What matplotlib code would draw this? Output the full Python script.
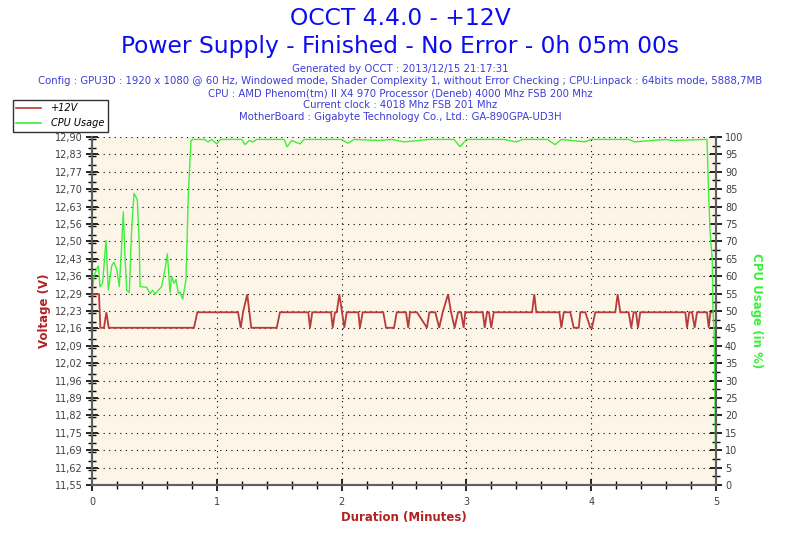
"""OCCT 4.4.0 power supply log: +12V rail and CPU usage over a 5 minute run."""

import matplotlib

matplotlib.use("Agg")
import matplotlib.pyplot as plt
import numpy as np
from matplotlib.lines import Line2D
from matplotlib.ticker import MultipleLocator


# +12V rail, breakpoints (minutes, volts)
V_TIME = [
    0.000, 0.056, 0.067, 0.096, 0.115, 0.134, 0.817, 0.844, 1.170, 1.192,
    1.210, 1.244, 1.276, 1.480, 1.506, 1.733, 1.747, 1.765, 1.915, 1.929,
    1.947, 1.961, 1.982, 2.022, 2.041, 2.134, 2.147, 2.169, 2.334, 2.356,
    2.420, 2.442, 2.516, 2.534, 2.548, 2.604, 2.684, 2.703, 2.751, 2.782,
    2.810, 2.853, 2.877, 2.906, 2.933, 2.957, 2.978, 2.991, 3.131, 3.147,
    3.165, 3.181, 3.199, 3.219, 3.526, 3.544, 3.560, 3.745, 3.761, 3.780,
    3.833, 3.860, 3.900, 3.913, 3.953, 3.993, 4.006, 4.033, 4.193, 4.212,
    4.233, 4.300, 4.321, 4.340, 4.359, 4.375, 4.393, 4.754, 4.768, 4.785,
    4.808, 4.829, 4.848, 4.928, 4.942, 4.955, 4.976,
]
V_VOLT = [
    12.29, 12.29, 12.16, 12.16, 12.22, 12.16, 12.16, 12.22, 12.22, 12.16,
    12.22, 12.29, 12.16, 12.16, 12.22, 12.22, 12.16, 12.22, 12.22, 12.16,
    12.22, 12.22, 12.29, 12.16, 12.22, 12.22, 12.16, 12.22, 12.22, 12.16,
    12.16, 12.22, 12.22, 12.16, 12.22, 12.22, 12.16, 12.22, 12.22, 12.16,
    12.22, 12.29, 12.22, 12.16, 12.22, 12.22, 12.16, 12.22, 12.22, 12.16,
    12.22, 12.22, 12.16, 12.22, 12.22, 12.29, 12.22, 12.22, 12.16, 12.22,
    12.22, 12.16, 12.16, 12.22, 12.22, 12.16, 12.16, 12.22, 12.22, 12.29,
    12.22, 12.22, 12.16, 12.22, 12.22, 12.16, 12.22, 12.22, 12.16, 12.22,
    12.22, 12.16, 12.22, 12.22, 12.16, 12.22, 12.22,
]

# CPU usage, breakpoints (minutes, %)
CPU_TIME = [
    0.000, 0.005, 0.016, 0.037, 0.051, 0.064, 0.085, 0.112, 0.131, 0.158,
    0.176, 0.198, 0.219, 0.238, 0.251, 0.264, 0.278, 0.299, 0.318, 0.337,
    0.363, 0.379, 0.385, 0.438, 0.465, 0.486, 0.505, 0.532, 0.558, 0.585,
    0.604, 0.625, 0.638, 0.657, 0.673, 0.692, 0.705, 0.727, 0.753, 0.772,
    0.793, 0.812, 0.900, 0.930, 0.960, 1.000, 1.030, 1.200, 1.226, 1.260,
    1.290, 1.320, 1.540, 1.563, 1.600, 1.667, 1.700, 2.000, 2.050, 2.100,
    2.300, 2.400, 2.500, 2.700, 2.900, 2.950, 3.000, 3.300, 3.400, 3.450,
    3.650, 3.710, 3.760, 3.950, 4.000, 4.300, 4.350, 4.600, 4.650, 4.928,
    4.940, 4.953, 4.970, 4.975, 4.985, 4.990, 4.995, 5.000,
]
CPU_PCT = [
    40.0, 56.0, 60.0, 62.0, 63.0, 57.0, 58.0, 70.3, 56.0, 63.0,
    64.0, 62.0, 57.0, 69.0, 78.5, 66.0, 56.0, 55.3, 73.7, 83.8,
    82.0, 69.0, 57.0, 56.8, 55.0, 56.0, 54.8, 56.0, 57.0, 62.0,
    66.4, 55.3, 60.0, 58.0, 59.0, 55.0, 55.5, 53.4, 59.0, 83.4,
    99.0, 99.3, 99.3, 98.6, 99.3, 98.0, 99.3, 99.3, 97.8, 99.0,
    98.6, 99.3, 99.3, 97.2, 99.0, 98.0, 99.3, 99.3, 98.2, 99.3,
    99.0, 99.3, 98.6, 99.3, 99.3, 97.2, 99.3, 99.3, 98.6, 99.3,
    99.3, 97.8, 99.3, 98.6, 99.3, 99.3, 98.6, 99.3, 99.0, 99.3,
    84.8, 72.4, 64.7, 51.2, 43.7, 30.2, 12.9, 4.3,
]

V_TICK_LABELS = [
    "11,55", "11,62", "11,69", "11,75", "11,82", "11,89", "11,96", "12,02",
    "12,09", "12,16", "12,23", "12,29", "12,36", "12,43", "12,50", "12,56",
    "12,63", "12,70", "12,77", "12,83", "12,90",
]
CPU_TICK_LABELS = [str(v) for v in range(0, 101, 5)]
X_TICK_LABELS = ["0", "1", "2", "3", "4", "5"]

TITLE_LINES = ["OCCT 4.4.0 - +12V", "Power Supply - Finished - No Error - 0h 05m 00s"]
INFO_LINES = [
    "Generated by OCCT : 2013/12/15 21:17:31",
    "Config : GPU3D : 1920 x 1080 @ 60 Hz, Windowed mode, Shader Complexity 1, "
    "without Error Checking ; CPU:Linpack : 64bits mode, 5888,7MB",
    "CPU : AMD Phenom(tm) II X4 970 Processor (Deneb) 4000 Mhz FSB 200 Mhz",
    "Current clock : 4018 Mhz FSB 201 Mhz",
    "MotherBoard : Gigabyte Technology Co., Ltd.: GA-890GPA-UD3H",
]

RED = "#b83a3a"
GREEN = "#3cf03c"
AXIS_GREY = "#606060"
TICK_TXT = "#404040"
BG = "#fdf6e8"

plt.rcParams["font.family"] = ["DejaVu Sans"]

fig = plt.figure(figsize=(8, 5.33), dpi=100)
ax = fig.add_axes([0.115, 0.090, 0.780, 0.653])
ax2 = ax.twinx()

ax.set_facecolor(BG)
ax2.patch.set_visible(False)

ax.plot(V_TIME, V_VOLT, color=RED, lw=1.3, solid_joinstyle="miter")
ax2.plot(CPU_TIME, CPU_PCT, color=GREEN, lw=1.0)

v_ticks = np.linspace(11.55, 12.90, len(V_TICK_LABELS))
ax.set_xlim(0, 5)
ax.set_ylim(11.55, 12.90)
ax2.set_ylim(0, 100)

ax.set_xticks(range(len(X_TICK_LABELS)))
ax.set_xticklabels(X_TICK_LABELS)
ax.xaxis.set_minor_locator(MultipleLocator(0.2))
ax.set_yticks(v_ticks)
ax.set_yticklabels(V_TICK_LABELS)
ax.yaxis.set_minor_locator(MultipleLocator(0.0675 / 2))
ax2.set_yticks(range(0, 101, 5))
ax2.set_yticklabels(CPU_TICK_LABELS)
ax2.yaxis.set_minor_locator(MultipleLocator(2.5))

for a in (ax, ax2):
    a.tick_params(which="major", direction="inout", length=9, width=1.2,
                  color="black", labelsize=7, labelcolor=TICK_TXT, pad=2)
    a.tick_params(which="minor", direction="inout", length=6, width=1.0,
                  color="black")
    for s in a.spines.values():
        s.set_color(AXIS_GREY)
        s.set_linewidth(1.5)
ax.spines["top"].set_visible(False)
ax2.spines["top"].set_visible(False)
ax.tick_params(axis="x", pad=4)

ax.grid(True, which="major", color="black", lw=0.8, linestyle=(0, (1, 4)))

ax.set_xlabel("Duration (Minutes)", color="#b22222", fontsize=8.5,
              fontweight="bold", labelpad=3)
ax.set_ylabel("Voltage (V)", color="#b22222", fontsize=8.5,
              fontweight="bold", labelpad=3)
ax2.set_ylabel("CPU Usage (in %)", color=GREEN, fontsize=8.5,
               fontweight="bold", rotation=-90, labelpad=14)

fig.text(0.5, 0.966, TITLE_LINES[0], ha="center", va="center",
         fontsize=16.8, color="#0c0cf2")
fig.text(0.5, 0.913, TITLE_LINES[1], ha="center", va="center",
         fontsize=16.8, color="#0c0cf2")
for i, line in enumerate(INFO_LINES):
    fig.text(0.5, 0.870 - i * 0.0225, line, ha="center", va="center",
             fontsize=7.3, color="#3c3cd8")

handles = [Line2D([], [], color=RED, lw=1.2), Line2D([], [], color=GREEN, lw=1.2)]
leg = fig.legend(handles, ["+12V", "CPU Usage"], loc="upper left",
                 bbox_to_anchor=(0.016, 0.813),
                 prop={"style": "italic", "size": 7}, frameon=True,
                 fancybox=False, borderpad=0.35, labelspacing=0.55,
                 handlelength=2.6, handletextpad=1.0, borderaxespad=0)
leg.get_frame().set_edgecolor("black")
leg.get_frame().set_linewidth(1.0)

fig.savefig("out.png", dpi=100, facecolor="white")
